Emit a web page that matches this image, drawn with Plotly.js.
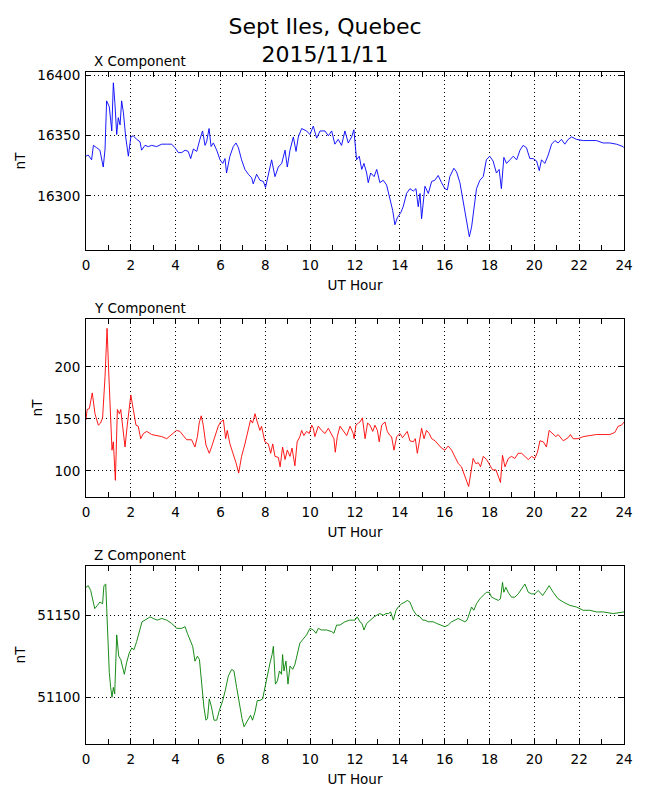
<!DOCTYPE html>
<html>
<head>
<meta charset="utf-8">
<script src="https://cdn.plot.ly/plotly-3.0.1.min.js"></script>
<style>
  body { margin: 0; background: #fff; }
  #chart { width: 650px; height: 800px; }
</style>
</head>
<body>
<div id="chart"></div>
<script>
// X component (UT hour / nT)
var xHours = [
  0, 0.1, 0.25, 0.33, 0.48, 0.62, 0.77, 0.85, 0.92, 1.04,
  1.15, 1.22, 1.29, 1.37, 1.44, 1.52, 1.59, 1.67, 1.77, 1.89,
  2.0, 2.11, 2.26, 2.41, 2.48, 2.63, 2.78, 2.93, 3.15, 3.38,
  3.6, 3.82, 3.97, 4.12, 4.27, 4.42, 4.56, 4.67, 4.79, 4.94,
  5.08, 5.2, 5.31, 5.38, 5.49, 5.58, 5.68, 5.83, 5.98, 6.1,
  6.2, 6.27, 6.42, 6.57, 6.69, 6.8, 6.94, 7.09, 7.24, 7.39,
  7.46, 7.61, 7.76, 7.91, 8.01, 8.13, 8.28, 8.43, 8.58, 8.73,
  8.88, 8.98, 9.1, 9.25, 9.37, 9.47, 9.62, 9.84, 9.99, 10.14,
  10.29, 10.44, 10.66, 10.81, 10.96, 11.1, 11.25, 11.4, 11.55, 11.7,
  11.85, 11.95, 12.07, 12.19, 12.3, 12.4, 12.52, 12.59, 12.7, 12.85,
  12.97, 13.11, 13.26, 13.41, 13.56, 13.68, 13.78, 13.89, 14.04, 14.15,
  14.3, 14.45, 14.6, 14.72, 14.82, 14.9, 14.97, 15.12, 15.27, 15.42,
  15.56, 15.71, 15.86, 16.01, 16.12, 16.23, 16.41, 16.53, 16.68, 16.83,
  16.98, 17.1, 17.2, 17.3, 17.42, 17.57, 17.72, 17.86, 18.01, 18.16,
  18.31, 18.43, 18.53, 18.64, 18.76, 18.91, 19.06, 19.21, 19.36, 19.5,
  19.65, 19.8, 19.95, 20.1, 20.22, 20.32, 20.47, 20.62, 20.77, 20.92,
  21.06, 21.21, 21.36, 21.51, 21.66, 21.88, 22.18, 22.48, 22.77, 23.07,
  23.37, 23.66, 23.96, 24
];
var xValues = [
  16333, 16334, 16330, 16342, 16340, 16338, 16324, 16339, 16379, 16374,
  16354, 16394, 16377, 16351, 16365, 16359, 16379, 16369, 16349, 16333,
  16349, 16350, 16347, 16345, 16338, 16342, 16341, 16342, 16341, 16343,
  16343, 16343, 16340, 16336, 16336, 16338, 16337, 16331, 16339, 16337,
  16347, 16354, 16342, 16345, 16356, 16341, 16344, 16338, 16330, 16327,
  16331, 16319, 16333, 16341, 16344, 16340, 16330, 16322, 16318, 16315,
  16310, 16318, 16313, 16312, 16307, 16318, 16330, 16316, 16324, 16327,
  16338, 16324, 16338, 16349, 16337, 16349, 16356, 16354, 16351, 16358,
  16348, 16354, 16354, 16350, 16354, 16343, 16347, 16342, 16354, 16344,
  16349, 16355, 16330, 16333, 16322, 16327, 16319, 16311, 16319, 16316,
  16322, 16311, 16313, 16309, 16297, 16288, 16276, 16282, 16286, 16291,
  16302, 16306, 16304, 16306, 16291, 16302, 16281, 16308, 16302, 16312,
  16313, 16317, 16311, 16306, 16305, 16316, 16323, 16320, 16311, 16294,
  16277, 16266, 16274, 16291, 16306, 16313, 16316, 16330, 16333, 16329,
  16319, 16322, 16306, 16332, 16327, 16330, 16333, 16330, 16338, 16342,
  16340, 16331, 16331, 16329, 16321, 16330, 16327, 16334, 16343, 16346,
  16344, 16347, 16343, 16347, 16349, 16347, 16346, 16346, 16346, 16344,
  16344, 16343, 16341, 16340
];

// Y component
var yHours = [
  0, 0.05, 0.15, 0.28, 0.4, 0.55, 0.65, 0.74, 0.85, 0.94,
  1.01, 1.1, 1.16, 1.22, 1.31, 1.4, 1.49, 1.55, 1.64, 1.74,
  1.84, 1.93, 2.0, 2.11, 2.23, 2.33, 2.44, 2.56, 2.71, 2.93,
  3.15, 3.38, 3.6, 3.82, 4.04, 4.19, 4.34, 4.49, 4.71, 4.86,
  4.97, 5.05, 5.14, 5.23, 5.35, 5.5, 5.6, 5.75, 5.9, 6.0,
  6.13, 6.23, 6.3, 6.42, 6.57, 6.69, 6.81, 6.94, 7.09, 7.24,
  7.34, 7.43, 7.54, 7.64, 7.76, 7.83, 7.98, 8.13, 8.24, 8.33,
  8.43, 8.58, 8.66, 8.77, 8.88, 8.98, 9.1, 9.19, 9.32, 9.42,
  9.54, 9.62, 9.72, 9.84, 9.96, 10.07, 10.14, 10.21, 10.36, 10.51,
  10.66, 10.81, 10.96, 11.06, 11.12, 11.21, 11.33, 11.48, 11.63, 11.78,
  11.92, 11.96, 12.04, 12.15, 12.22, 12.33, 12.45, 12.56, 12.67, 12.79,
  12.89, 13.0, 13.08, 13.19, 13.34, 13.44, 13.56, 13.63, 13.74, 13.86,
  14.01, 14.12, 14.23, 14.33, 14.45, 14.6, 14.69, 14.78, 14.87, 14.97,
  15.08, 15.19, 15.31, 15.42, 15.57, 15.71, 15.86, 16.01, 16.16, 16.31,
  16.46, 16.61, 16.75, 16.86, 16.98, 17.07, 17.16, 17.27, 17.39, 17.5,
  17.6, 17.72, 17.87, 18.02, 18.14, 18.29, 18.39, 18.49, 18.58, 18.69,
  18.84, 18.98, 19.13, 19.28, 19.43, 19.58, 19.73, 19.88, 20.02, 20.14,
  20.25, 20.4, 20.54, 20.66, 20.81, 20.96, 21.06, 21.29, 21.51, 21.61,
  21.73, 21.95, 22.18, 22.48, 22.77, 23.07, 23.37, 23.59, 23.74, 23.89,
  24
];
var yValues = [
  149, 159, 160, 175, 155, 144, 146, 151, 191, 237,
  197, 159, 120, 128, 91, 159, 155, 159, 139, 123,
  144, 162, 173, 159, 144, 143, 131, 136, 138, 135,
  134, 133, 131, 135, 139, 138, 134, 130, 130, 123,
  133, 146, 153, 144, 125, 117, 123, 133, 143, 147,
  149, 131, 139, 126, 117, 108, 98, 114, 126, 141,
  149, 146, 155, 147, 139, 143, 128, 126, 117, 126,
  114, 113, 104, 123, 111, 120, 114, 122, 105, 128,
  133, 139, 134, 138, 136, 144, 141, 133, 143, 139,
  136, 141, 134, 131, 118, 133, 143, 139, 134, 143,
  136, 131, 144, 146, 147, 151, 131, 146, 144, 138,
  144, 139, 128, 144, 147, 138, 134, 133, 120, 133,
  136, 132, 135, 138, 129, 128, 131, 117, 128, 141,
  131, 139, 136, 131, 129, 126, 122, 120, 124, 120,
  114, 107, 104, 97, 89, 85, 97, 112, 107, 108,
  104, 114, 111, 105, 101, 101, 94, 89, 115, 104,
  112, 114, 112, 117, 117, 114, 111, 114, 112, 118,
  129, 128, 123, 139, 136, 133, 135, 129, 132, 135,
  131, 131, 133, 134, 135, 135, 135, 137, 143, 144,
  147
];

// Z component
var zHours = [
  0, 0.1, 0.21, 0.3, 0.39, 0.51, 0.62, 0.74, 0.8, 0.88,
  0.92, 0.97, 1.04, 1.1, 1.16, 1.22, 1.28, 1.37, 1.46, 1.55,
  1.64, 1.71, 1.81, 1.93, 2.04, 2.14, 2.26, 2.38, 2.5, 2.63,
  2.86, 3.0, 3.18, 3.38, 3.6, 3.82, 4.05, 4.27, 4.42, 4.52,
  4.64, 4.76, 4.86, 4.97, 5.06, 5.16, 5.26, 5.35, 5.42, 5.5,
  5.6, 5.71, 5.83, 5.95, 6.1, 6.21, 6.35, 6.5, 6.6, 6.72,
  6.84, 6.96, 7.05, 7.14, 7.24, 7.34, 7.43, 7.54, 7.64, 7.76,
  7.88, 7.98, 8.09, 8.21, 8.3, 8.36, 8.45, 8.54, 8.63, 8.72,
  8.77, 8.83, 8.92, 9.01, 9.1, 9.22, 9.32, 9.42, 9.54, 9.66,
  9.84, 9.99, 10.14, 10.26, 10.36, 10.51, 10.73, 10.96, 11.06, 11.18,
  11.33, 11.55, 11.75, 11.92, 12.0, 12.1, 12.22, 12.31, 12.4, 12.52,
  12.67, 12.85, 12.97, 13.11, 13.26, 13.38, 13.49, 13.59, 13.71, 13.83,
  13.93, 14.08, 14.23, 14.33, 14.45, 14.6, 14.75, 14.9, 15.02, 15.12,
  15.27, 15.49, 15.64, 15.82, 16.01, 16.16, 16.31, 16.46, 16.6, 16.75,
  16.9, 17.0, 17.13, 17.2, 17.3, 17.42, 17.57, 17.72, 17.86, 17.99,
  18.09, 18.24, 18.39, 18.49, 18.58, 18.64, 18.73, 18.83, 18.98, 19.13,
  19.28, 19.43, 19.58, 19.73, 19.88, 20.02, 20.17, 20.25, 20.37, 20.52,
  20.66, 20.84, 21.06, 21.29, 21.58, 21.88, 22.18, 22.48, 22.77, 23.07,
  23.52, 24
];
var zValues = [
  51167, 51168, 51165, 51159, 51154, 51156, 51158, 51157, 51168, 51169,
  51155, 51133, 51115, 51106, 51100, 51106, 51102, 51138, 51125, 51123,
  51117, 51114, 51121, 51127, 51130, 51129, 51134, 51141, 51146, 51147,
  51149, 51148, 51147, 51148, 51147, 51145, 51142, 51142, 51143, 51139,
  51135, 51131, 51122, 51125, 51123, 51106, 51094, 51086, 51087, 51099,
  51094, 51086, 51086, 51092, 51098, 51104, 51113, 51117, 51116, 51106,
  51096, 51087, 51082, 51084, 51087, 51089, 51086, 51091, 51098, 51098,
  51099, 51106, 51114, 51121, 51126, 51131, 51108, 51110, 51116, 51114,
  51126, 51116, 51122, 51108, 51119, 51117, 51120, 51127, 51133, 51135,
  51138, 51142, 51141, 51139, 51142, 51141, 51141, 51140, 51139, 51144,
  51144, 51146, 51147, 51147, 51147, 51149, 51146, 51145, 51141, 51145,
  51147, 51149, 51150, 51151, 51150, 51151, 51151, 51152, 51147, 51153,
  51155, 51157, 51158, 51159, 51158, 51153, 51150, 51149, 51147, 51147,
  51146, 51146, 51145, 51144, 51143, 51144, 51146, 51147, 51148, 51147,
  51146, 51147, 51153, 51155, 51153, 51157, 51160, 51162, 51164, 51164,
  51161, 51160, 51159, 51160, 51170, 51164, 51167, 51164, 51161, 51161,
  51163, 51166, 51169, 51164, 51163, 51163, 51165, 51164, 51162, 51165,
  51168, 51164, 51160, 51158, 51156, 51155, 51153, 51153, 51152, 51152,
  51151, 51152
];

var panelNames = ['X Component', 'Y Component', 'Z Component'];
var lineColors = ['#0000ff', '#ff0000', '#008000'];
var valueRanges = [[16255, 16403], [75, 246], [51071.5, 51180]];
var valueTicks = [[16300, 16350, 16400], [100, 150, 200], [51100, 51150]];
var hourTicks = [0, 2, 4, 6, 8, 10, 12, 14, 16, 18, 20, 22, 24];

// panel vertical extents in paper units (plot area 72..744 px)
var domains = [[0.7351, 1], [0.3676, 0.6324], [0, 0.2649]];

var font = 'DejaVu Sans, sans-serif';
var series = [[xHours, xValues], [yHours, yValues], [zHours, zValues]];

var traces = series.map(function (s, i) {
	var n = i === 0 ? '' : String(i + 1);
	return {
		x: s[0],
		y: s[1],
		xaxis: 'x' + n,
		yaxis: 'y' + n,
		type: 'scatter',
		mode: 'lines',
		line: {color: lineColors[i], width: 0.9},
		hoverinfo: 'skip',
		showlegend: false
	};
});

function axisBase() {
	return {
		showline: true,
		mirror: 'ticks',
		linecolor: '#000',
		linewidth: 1,
		ticks: 'inside',
		ticklen: 5,
		tickwidth: 1,
		tickcolor: '#000',
		showgrid: true,
		gridcolor: '#000',
		gridwidth: 1,
		griddash: '1px,3px',
		zeroline: false,
		tickfont: {family: font, size: 13.5, color: '#000'},
		fixedrange: true
	};
}

var layout = {
	width: 650,
	height: 800,
	margin: {l: 86, r: 26, t: 72, b: 56},
	paper_bgcolor: '#fff',
	plot_bgcolor: '#fff',
	font: {family: font, color: '#000'},
	title: {
		text: 'Sept Iles, Quebec<br>2015/11/11',
		font: {family: font, size: 22, color: '#000'},
		xref: 'container', x: 0.5, xanchor: 'center',
		yref: 'container', y: 0.958, yanchor: 'middle'
	},
	annotations: []
};

for (var i = 0; i < 3; i++) {
	var n = i === 0 ? '' : String(i + 1);
	var xa = axisBase();
	xa.domain = [0, 1];
	xa.anchor = 'y' + n;
	xa.range = [0, 24];
	xa.tickmode = 'array';
	xa.tickvals = hourTicks;
	xa.ticklabelstandoff = 3;
	xa.minor = {dtick: 1, tick0: 0, ticks: 'inside', ticklen: 5, tickcolor: '#000', showgrid: false};
	xa.title = {text: 'UT Hour', font: {family: font, size: 13.5, color: '#000'}, standoff: 8};
	layout['xaxis' + n] = xa;

	var ya = axisBase();
	ya.domain = domains[i];
	ya.anchor = 'x' + n;
	ya.range = valueRanges[i];
	ya.tickmode = 'array';
	ya.tickvals = valueTicks[i];
	ya.tickformat = 'd';
	ya.ticklabelstandoff = 2;
	ya.title = {text: 'nT', font: {family: font, size: 13.5, color: '#000'}, standoff: 8};
	layout['yaxis' + n] = ya;

	layout.annotations.push({
		text: panelNames[i],
		xref: 'paper', yref: 'paper',
		x: 0.011, y: domains[i][1],
		xanchor: 'left', yanchor: 'bottom',
		yshift: 1,
		showarrow: false,
		font: {family: font, size: 13.5, color: '#000'}
	});
}

Plotly.newPlot('chart', traces, layout, {displayModeBar: false, staticPlot: true});
</script>
</body>
</html>
